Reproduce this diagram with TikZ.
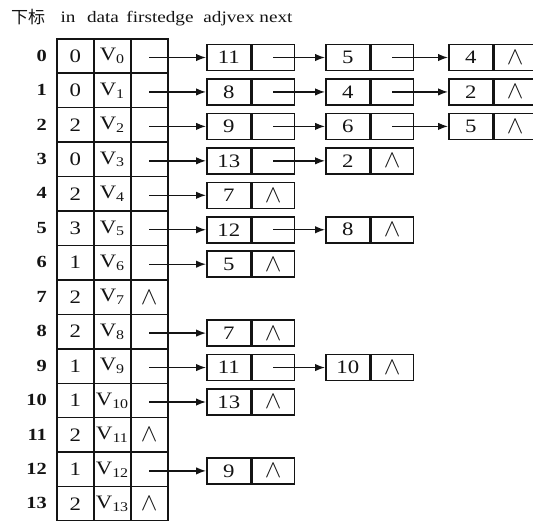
\documentclass[tikz,border=0pt]{standalone}
\usepackage{fontspec}
\setmainfont{Liberation Serif}[FakeStretch=1.2]
\newfontfamily\cjk{Noto Sans CJK SC}
\usetikzlibrary{arrows.meta}
\definecolor{ink}{HTML}{141414}
\newcommand\nul{{\fontsize{27}{27}\selectfont$\wedge$}}
\tikzset{
  cell/.style={draw=ink, line width=1.5pt, minimum width=37pt, minimum height=34.45pt,
    inner sep=0pt, anchor=north west, text=ink, font=\fontsize{19}{19}\selectfont},
  vcell/.style={draw=ink, line width=1.5pt, minimum width=44pt, minimum height=26pt,
    inner sep=0pt, anchor=west, text=ink, font=\fontsize{19}{19}\selectfont},
  pcell/.style={vcell, minimum width=42pt},
  idx/.style={anchor=east, inner sep=0pt, text=ink, font=\fontsize{17}{17}\selectfont\bfseries},
  hdr/.style={anchor=base, inner sep=0pt, text=ink, font=\fontsize{16}{16}\selectfont},
  arr/.style={draw=ink, line width=1.4pt, -{Latex[length=10pt,width=7.5pt]}},
}
\newcommand\lnode[5]{%
  \node[vcell] (#1v) at (#2,{38+34.45*#3+19.5}) {#4};
  \node[pcell] (#1p) at (#1v.east) {#5};}
\begin{document}
\begin{tikzpicture}[x=1pt,y=-1pt]
\useasboundingbox (0,0) rectangle (533,520);
% header
\node[hdr, font=\fontsize{17}{17}\selectfont\cjk] (h0) at (28,23) {下标};
\node[hdr] (h1) at (68,22) {in};
\node[hdr] (h2) at (103,22) {data};
\node[hdr] (h3) at (160,22) {firstedge};
\node[hdr] (h4) at (229,22) {adjvex};
\node[hdr] (h5) at (276,22) {next};
% vertex table
\foreach \i/\din/\ptr in {0/0/,1/0/,2/2/,3/0/,4/2/,5/3/,6/1/,7/2/\nul,8/2/,9/1/,10/1/,11/2/\nul,12/1/,13/2/\nul}{
  \node[cell] (in\i) at (56,{38+34.45*\i}) {\din};
  \node[cell] (da\i) at (93,{38+34.45*\i}) {V\textsubscript{\i}};
  \node[cell] (fe\i) at (130,{38+34.45*\i}) {\ptr};
  \node[idx] (ix\i) at (47,{38+34.45*\i+17.5}) {\i};
}
% edge nodes
\lnode{a0}{206}{0}{11}{}  \lnode{b0}{325}{0}{5}{}  \lnode{c0}{448}{0}{4}{\nul}
\lnode{a1}{206}{1}{8}{}   \lnode{b1}{325}{1}{4}{}  \lnode{c1}{448}{1}{2}{\nul}
\lnode{a2}{206}{2}{9}{}   \lnode{b2}{325}{2}{6}{}  \lnode{c2}{448}{2}{5}{\nul}
\lnode{a3}{206}{3}{13}{}  \lnode{b3}{325}{3}{2}{\nul}
\lnode{a4}{206}{4}{7}{\nul}
\lnode{a5}{206}{5}{12}{}  \lnode{b5}{325}{5}{8}{\nul}
\lnode{a6}{206}{6}{5}{\nul}
\lnode{a8}{206}{8}{7}{\nul}
\lnode{a9}{206}{9}{11}{}  \lnode{b9}{325}{9}{10}{\nul}
\lnode{a10}{206}{10}{13}{\nul}
\lnode{a12}{206}{12}{9}{\nul}
% arrows from vertex table
\foreach \i in {0,1,2,3,4,5,6,8,9,10,12}{
  \draw[arr] (fe\i.center |- a\i v.center) -- (a\i v.west);
}
% arrows between edge nodes
\foreach \i in {0,1,2,3,5,9}{
  \draw[arr] (a\i p.center) -- (b\i v.west);
}
\foreach \i in {0,1,2}{
  \draw[arr] (b\i p.center) -- (c\i v.west);
}
\end{tikzpicture}
\end{document}
